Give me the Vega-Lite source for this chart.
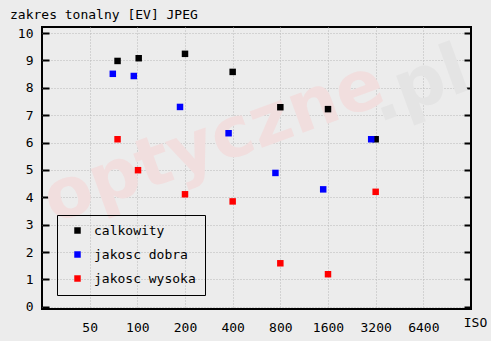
{
  "$schema": "https://vega.github.io/schema/vega-lite/v6.json",
  "width": 429,
  "height": 282,
  "autosize": {"type": "none"},
  "padding": {"left": 42, "top": 27, "right": 20, "bottom": 32},
  "background": "#ececec",
  "title": {
    "text": "zakres tonalny [EV] JPEG",
    "anchor": "start",
    "frame": "group",
    "dx": -32,
    "offset": 5,
    "font": "DejaVu Sans Mono",
    "fontSize": 13,
    "fontWeight": "normal",
    "color": "#000"
  },
  "config": {
    "view": {"stroke": "#000", "strokeWidth": 2},
    "font": "DejaVu Sans Mono",
    "axis": {
      "labelFont": "DejaVu Sans Mono",
      "labelFontSize": 13,
      "labelColor": "#000",
      "titleFont": "DejaVu Sans Mono",
      "titleFontSize": 13,
      "titleFontWeight": "normal",
      "titleColor": "#000",
      "gridColor": "#b8b8b8",
      "gridDash": [1, 2],
      "gridWidth": 1,
      "domain": false
    },
    "legend": {
      "labelFont": "DejaVu Sans Mono",
      "labelFontSize": 13,
      "labelColor": "#000"
    }
  },
  "datasets": {
    "pts": [
      {"iso": 75, "ev": 8.98, "seria": "calkowity"},
      {"iso": 102, "ev": 9.08, "seria": "calkowity"},
      {"iso": 200, "ev": 9.24, "seria": "calkowity"},
      {"iso": 400, "ev": 8.58, "seria": "calkowity"},
      {"iso": 800, "ev": 7.29, "seria": "calkowity"},
      {"iso": 1600, "ev": 7.22, "seria": "calkowity"},
      {"iso": 3200, "ev": 6.12, "seria": "calkowity"},
      {"iso": 70, "ev": 8.51, "seria": "jakosc dobra"},
      {"iso": 95, "ev": 8.43, "seria": "jakosc dobra"},
      {"iso": 186, "ev": 7.30, "seria": "jakosc dobra"},
      {"iso": 377, "ev": 6.34, "seria": "jakosc dobra"},
      {"iso": 745, "ev": 4.89, "seria": "jakosc dobra"},
      {"iso": 1492, "ev": 4.29, "seria": "jakosc dobra"},
      {"iso": 2998, "ev": 6.12, "seria": "jakosc dobra"},
      {"iso": 75, "ev": 6.12, "seria": "jakosc wysoka"},
      {"iso": 101, "ev": 4.99, "seria": "jakosc wysoka"},
      {"iso": 200, "ev": 4.11, "seria": "jakosc wysoka"},
      {"iso": 400, "ev": 3.85, "seria": "jakosc wysoka"},
      {"iso": 800, "ev": 1.59, "seria": "jakosc wysoka"},
      {"iso": 1600, "ev": 1.19, "seria": "jakosc wysoka"},
      {"iso": 3200, "ev": 4.20, "seria": "jakosc wysoka"}
    ],
    "wm": [
      {"iso": 304, "ev": 5.99, "t": "optyczne"}
    ],
    "wm2": [
      {"iso": 5990, "ev": 8.07, "t": ".pl"}
    ]
  },
  "resolve": {"scale": {"y": "independent"}},
  "layer": [
    {
      "data": {"name": "wm"},
      "mark": {"type": "text", "font": "DejaVu Sans", "fontWeight": "bold", "fontSize": 70, "angle": -20, "align": "center", "baseline": "middle", "color": "#f1dede"},
      "encoding": {
        "x": {"field": "iso", "type": "quantitative", "scale": {"type": "log", "base": 2, "domain": [25, 12800], "nice": false},
              "axis": {"values": [50, 100, 200, 400, 800, 1600, 3200, 6400], "format": "d", "ticks": false, "grid": true, "labelPadding": 12, "labelFlush": false, "title": "ISO", "titleX": 433, "titleY": 13, "titleAlign": "center", "titleBaseline": "middle", "titleAnchor": null}},
        "y": {"field": "ev", "type": "quantitative", "scale": {"domain": [-0.08, 10.22], "nice": false, "zero": false}, "axis": null},
        "text": {"field": "t"}
      }
    },
    {
      "data": {"name": "wm2"},
      "mark": {"type": "text", "font": "DejaVu Sans", "fontWeight": "bold", "fontSize": 70, "angle": -20, "align": "center", "baseline": "middle", "color": "#e4e4e4"},
      "encoding": {
        "x": {"field": "iso", "type": "quantitative", "scale": {"type": "log", "base": 2, "domain": [25, 12800], "nice": false},
              "axis": {"values": [50, 100, 200, 400, 800, 1600, 3200, 6400], "format": "d", "ticks": false, "grid": true, "labelPadding": 12, "labelFlush": false, "title": "ISO", "titleX": 433, "titleY": 13, "titleAlign": "center", "titleBaseline": "middle", "titleAnchor": null}},
        "y": {"field": "ev", "type": "quantitative", "scale": {"domain": [-0.08, 10.22], "nice": false, "zero": false}, "axis": null},
        "text": {"field": "t"}
      }
    },
    {
      "data": {"name": "pts"},
      "mark": {"type": "point", "shape": "square", "filled": true, "size": 42, "opacity": 1},
      "encoding": {
        "x": {"field": "iso", "type": "quantitative", "scale": {"type": "log", "base": 2, "domain": [25, 12800], "nice": false},
              "axis": {"values": [50, 100, 200, 400, 800, 1600, 3200, 6400], "format": "d", "ticks": false, "grid": true, "labelPadding": 12, "labelFlush": false, "title": "ISO", "titleX": 433, "titleY": 13, "titleAlign": "center", "titleBaseline": "middle", "titleAnchor": null}},
        "y": {"field": "ev", "type": "quantitative", "scale": {"domain": [-0.08, 10.22], "nice": false, "zero": false},
              "axis": {"orient": "left", "values": [0, 1, 2, 3, 4, 5, 6, 7, 8, 9, 10], "grid": true, "ticks": true, "tickSize": -7, "tickWidth": 2, "tickColor": "#000", "labelPadding": 16, "title": null}},
        "color": {"field": "seria", "type": "nominal",
                  "scale": {"domain": ["calkowity", "jakosc dobra", "jakosc wysoka"], "range": ["#000000", "#0000ff", "#ff0000"]},
                  "legend": {"title": null, "orient": "none", "legendX": 15, "legendY": 188, "strokeColor": "#000", "padding": 9, "symbolType": "square", "symbolSize": 42, "symbolOffset": 5, "labelOffset": 10, "rowPadding": 10, "labelExpr": "datum.label + ' '"}}
      }
    },
    {
      "data": {"name": "pts"},
      "mark": {"type": "point", "opacity": 0},
      "encoding": {
        "x": {"field": "iso", "type": "quantitative", "scale": {"type": "log", "base": 2, "domain": [25, 12800], "nice": false},
              "axis": {"values": [50, 100, 200, 400, 800, 1600, 3200, 6400], "format": "d", "ticks": false, "grid": true, "labelPadding": 12, "labelFlush": false, "title": "ISO", "titleX": 433, "titleY": 13, "titleAlign": "center", "titleBaseline": "middle", "titleAnchor": null}},
        "y": {"field": "ev", "type": "quantitative", "scale": {"domain": [-0.08, 10.22], "nice": false, "zero": false},
              "axis": {"orient": "right", "values": [0, 1, 2, 3, 4, 5, 6, 7, 8, 9, 10], "grid": false, "ticks": true, "tickSize": -7, "tickWidth": 2, "tickColor": "#000", "labels": false, "title": null}}
      }
    }
  ]
}
